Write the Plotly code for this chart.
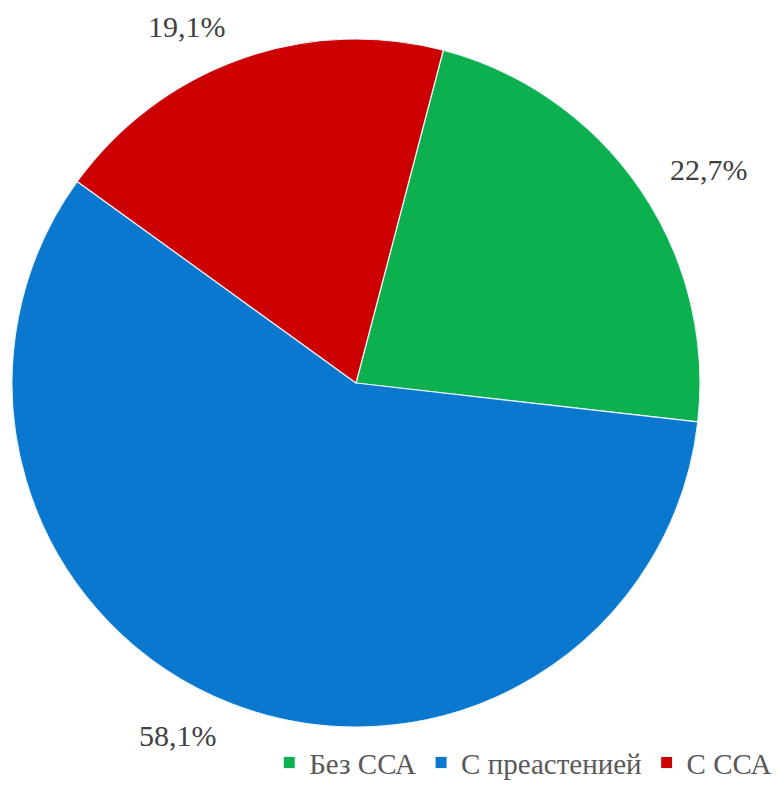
import math
import plotly.graph_objects as go

# Share of patients by group
categories = ["Без ССА", "С преастенией", "С ССА"]
shares = [22.7, 58.1, 19.1]
labels = ["22,7%", "58,1%", "19,1%"]
colors = ["#0DB04F", "#0A78CF", "#CC0000"]

SERIF = "Liberation Serif"

W, H = 778, 785
cx, cy, r = 356, 383, 344
start = 14.7  # degrees clockwise from 12 o'clock

fig = go.Figure()
fig.add_trace(go.Pie(
    labels=categories,
    values=shares,
    sort=False,
    direction="clockwise",
    rotation=start,
    textinfo="none",
    hoverinfo="label+percent",
    marker=dict(colors=colors, line=dict(color="#E8F2FA", width=1.2)),
    domain=dict(x=[(cx - r) / W, (cx + r) / W], y=[1 - (cy + r) / H, 1 - (cy - r) / H]),
))

# Percentage labels placed just outside each slice along its bisector
total = sum(shares)
acc = 0.0
for val, txt in zip(shares, labels):
    mid = start + (acc + val / 2) / total * 360
    acc += val
    a = math.radians(mid)
    s, c = math.sin(a), math.cos(a)
    d = r * 1.1
    px = cx + d * s
    py = cy - d * c
    fig.add_annotation(
        x=px / W, y=1 - py / H, xref="paper", yref="paper",
        xanchor="left" if s > 0 else "right", yanchor="middle",
        text=txt, showarrow=False,
        font=dict(family=SERIF, size=30, color="#404040"),
    )

fig.update_layout(
    width=W, height=H,
    margin=dict(l=0, r=0, t=0, b=0, autoexpand=False),
    paper_bgcolor="white",
    plot_bgcolor="white",
    showlegend=True,
    legend=dict(
        orientation="h",
        x=0.999, xanchor="right",
        y=-0.004, yanchor="bottom",
        font=dict(family=SERIF, size=29, color="#595959"),
        itemwidth=30,
        traceorder="normal",
    ),
)

fig.write_html("out.html")
